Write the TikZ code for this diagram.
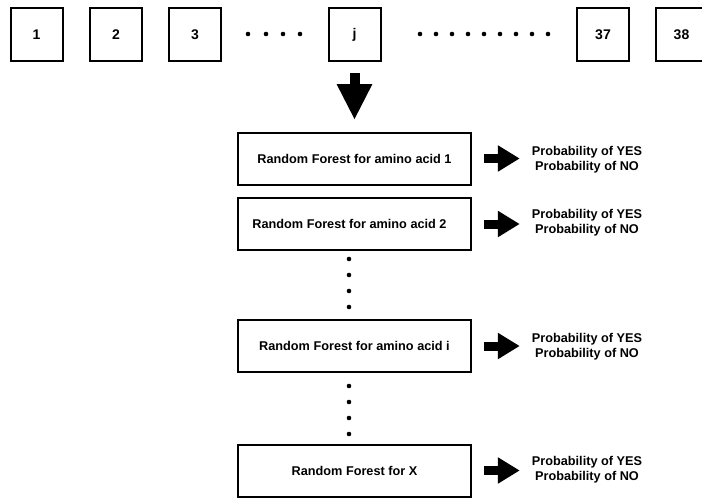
\documentclass[tikz,border=0pt]{standalone}
\usepackage{fontspec}
\setmainfont{Liberation Sans}
\usetikzlibrary{arrows.meta}
\begin{document}
\begin{tikzpicture}[x=1pt,y=-1pt,
 numbox/.style={draw, line width=2pt, minimum width=52pt, minimum height=53pt, inner sep=0pt, font=\fontsize{14}{16}\selectfont\bfseries},
 rfbox/.style={draw, line width=2pt, minimum width=233pt, minimum height=52pt, inner sep=0pt, font=\fontsize{12.7}{15}\selectfont\bfseries},
 probtext/.style={align=center, inner sep=0pt, font=\fontsize{12.7}{15}\selectfont\bfseries},
 downarrow/.style={line width=10pt, -{Triangle[width=33pt,length=36pt]}, shorten <=11pt, shorten >=11.5pt},
 rightarrow/.style={line width=9pt, -{Triangle[width=25pt,length=22pt]}, shorten <=12pt, shorten >=12pt},
 dotmark/.style={circle, fill, inner sep=0pt, minimum size=4.6pt}
]
\clip (0,0) rectangle (702,498);
% top row
\node[numbox] (n1) at (36.5,34.5) {1};
\node[numbox] (n2) at (116,34.5) {2};
\node[numbox] (n3) at (195,34.5) {3};
\node[numbox] (nj) at (354.5,34.5) {j};
\node[numbox] (n37) at (603,34.5) {37};
\node[numbox] (n38) at (681.5,34.5) {38};
\foreach \x in {248,266,283,300} \node[dotmark] at (\x,34) {};
\foreach \i in {0,...,8} \node[dotmark] at (420+16*\i,34) {};
% random forest boxes
\node[rfbox] (rf1) at (354.5,158.5) {Random Forest for amino acid 1};
\node[rfbox] (rf2) at (354.5,224) {Random Forest for amino acid 2\hspace*{10pt}};
\node[rfbox] (rfi) at (354.5,346) {Random Forest for amino acid i};
\node[rfbox] (rfx) at (354.5,470.5) {Random Forest for X};
% probabilities
\node[probtext] (p1) at (587,159.5) {Probability of YES\\Probability of NO};
\node[probtext] (p2) at (587,223) {Probability of YES\\Probability of NO};
\node[probtext] (pi) at (587,346.5) {Probability of YES\\Probability of NO};
\node[probtext] (px) at (587,469.5) {Probability of YES\\Probability of NO};
% vertical dots
\foreach \y in {259,275,291,307} \node[dotmark] at (349,\y) {};
\foreach \y in {386,402,418,434} \node[dotmark] at (349,\y) {};
% arrows
\draw[downarrow] (nj.south) -- (nj.south |- rf1.north);
\draw[rightarrow] (rf1.east) -- (rf1.east -| p1.west);
\draw[rightarrow] (rf2.east) -- (rf2.east -| p2.west);
\draw[rightarrow] (rfi.east) -- (rfi.east -| pi.west);
\draw[rightarrow] (rfx.east) -- (rfx.east -| px.west);
\end{tikzpicture}
\end{document}
